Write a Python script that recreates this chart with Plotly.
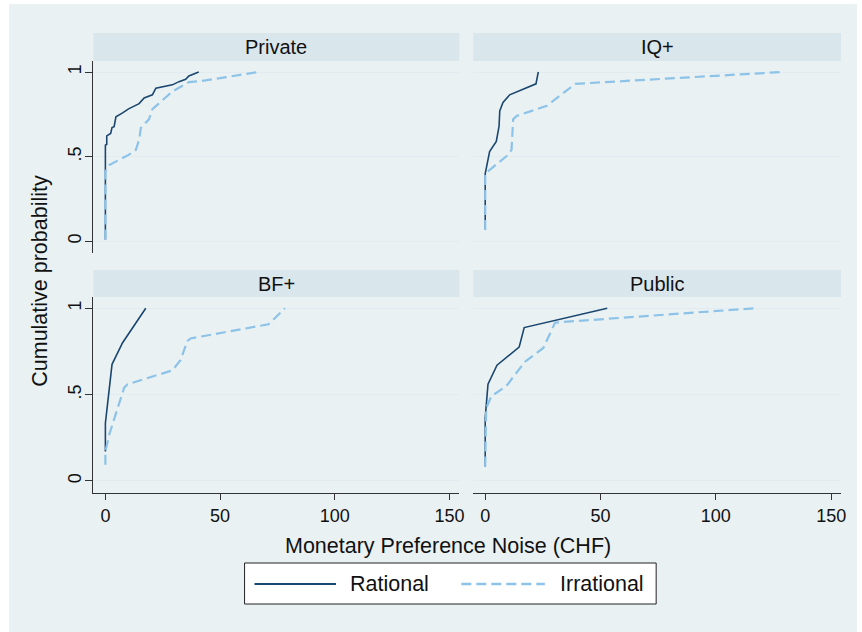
import plotly.graph_objects as go

W, H = 862, 632

panels = ["Private", "IQ+", "BF+", "Public"]

# Rational / Irrational series (x = noise CHF, y = cumulative probability)
private_rat_x = [0, 0, 0.6, 0.6, 2.3, 2.9, 3.8, 4.6, 7.5, 10.1, 14.7, 16.9, 20.5, 22.0, 29.2, 32.1, 35.0, 36.4, 40.7]
private_rat_y = [0.01, 0.567, 0.573, 0.622, 0.637, 0.671, 0.677, 0.735, 0.758, 0.782, 0.813, 0.846, 0.865, 0.904, 0.924, 0.943, 0.957, 0.977, 1.0]
private_irr_x = [0, 0, 1.7, 10.1, 13.3, 14.7, 15.5, 19.0, 20.5, 29.2, 36.4, 43.6, 66.7]
private_irr_y = [0.01, 0.41, 0.45, 0.51, 0.54, 0.60, 0.67, 0.72, 0.78, 0.885, 0.94, 0.95, 1.0]

iq_rat_x = [0, 0, 1.9, 4.8, 6.0, 6.3, 7.7, 10.6, 22.0, 23.0]
iq_rat_y = [0.066, 0.40, 0.53, 0.59, 0.68, 0.77, 0.82, 0.865, 0.93, 1.0]
iq_irr_x = [0, 0, 9.9, 11.4, 12.1, 13.6, 26.7, 39.0, 128.7]
iq_irr_y = [0.066, 0.40, 0.51, 0.54, 0.72, 0.74, 0.80, 0.93, 1.0]

bf_rat_x = [0, 0, 2.9, 7.5, 17.6]
bf_rat_y = [0.17, 0.335, 0.675, 0.80, 1.0]
bf_irr_x = [0, 0, 1.7, 8.2, 9.7, 29.2, 32.8, 35.7, 37.1, 71.1, 78.3]
bf_irr_y = [0.093, 0.17, 0.27, 0.54, 0.56, 0.64, 0.70, 0.81, 0.825, 0.907, 1.0]

pub_rat_x = [0, 0, 1.2, 5.1, 14.7, 16.9, 52.9]
pub_rat_y = [0.083, 0.365, 0.56, 0.67, 0.775, 0.888, 1.0]
pub_irr_x = [0, 0.4, 2.6, 9.2, 17.2, 25.2, 30.3, 117.0]
pub_irr_y = [0.083, 0.42, 0.49, 0.55, 0.69, 0.77, 0.917, 1.0]

rational = [(private_rat_x, private_rat_y), (iq_rat_x, iq_rat_y), (bf_rat_x, bf_rat_y), (pub_rat_x, pub_rat_y)]
irrational = [(private_irr_x, private_irr_y), (iq_irr_x, iq_irr_y), (bf_irr_x, bf_irr_y), (pub_irr_x, pub_irr_y)]

x_ticks = [0, 50, 100, 150]
x_ticklabels = ["0", "50", "100", "150"]
y_ticks = [0, 0.5, 1]
y_ticklabels = ["0", ".5", "1"]

RAT_COLOR = "#1a476f"
IRR_COLOR = "#8dc3e8"
OUTER_BG = "#eaf1f3"
STRIP_BG = "#d9e6ec"
GRID = "#e2ecf0"
AXIS = "#333333"
TEXT = "#111111"
FONT = "Liberation Sans, Arial, sans-serif"

cols = [(94, 462), (476, 846)]
rows = [(61, 253), (297, 493)]
strips = [(33, 61), (270, 297)]


def px_x(p):
    return p / W


def px_y(p):
    return 1 - p / H


fig = go.Figure()
layout = dict(
    width=W, height=H,
    margin=dict(l=0, r=0, t=0, b=0),
    paper_bgcolor="white",
    plot_bgcolor="white",
    showlegend=False,
    font=dict(family=FONT, color=TEXT),
)

shapes = []
annotations = []

shapes.append(dict(type="rect", xref="paper", yref="paper",
                   x0=px_x(9), x1=1, y0=0, y1=px_y(4),
                   fillcolor=OUTER_BG, line=dict(width=0), layer="below"))

for i, name in enumerate(panels):
    r, c = divmod(i, 2)
    idx = i + 1
    xa = "xaxis" if idx == 1 else f"xaxis{idx}"
    ya = "yaxis" if idx == 1 else f"yaxis{idx}"
    xref = "x" if idx == 1 else f"x{idx}"
    yref = "y" if idx == 1 else f"y{idx}"
    x0p, x1p = cols[c]
    y0p, y1p = rows[r]
    bottom = r == 1
    left = c == 0
    layout[xa] = dict(
        domain=[px_x(x0p), px_x(x1p)],
        range=[-5.2, 154.3],
        anchor=yref,
        tickmode="array", tickvals=x_ticks, ticktext=x_ticklabels,
        showticklabels=bottom,
        ticks="outside" if bottom else "",
        ticklen=6, tickwidth=1, tickcolor=AXIS,
        showline=bottom, linecolor=AXIS, linewidth=1,
        showgrid=False, zeroline=False,
        tickfont=dict(size=18, color=TEXT, family=FONT),
        fixedrange=True,
    )
    layout[ya] = dict(
        domain=[px_y(y1p), px_y(y0p)],
        range=[-0.07, 1.065],
        anchor=xref,
        tickmode="array", tickvals=y_ticks, ticktext=y_ticklabels,
        showticklabels=left,
        ticks="outside" if left else "",
        ticklen=7, tickwidth=1, tickcolor=AXIS,
        showline=left, linecolor=AXIS, linewidth=1,
        showgrid=True, gridcolor=GRID, gridwidth=1.2,
        zeroline=False,
        tickangle=-90,
        ticklabelstandoff=-3,
        tickfont=dict(size=18, color=TEXT, family=FONT),
        fixedrange=True,
    )
    s0, s1 = strips[r]
    shapes.append(dict(type="rect", xref="paper", yref="paper",
                       x0=px_x(x0p), x1=px_x(x1p), y0=px_y(s1), y1=px_y(s0),
                       fillcolor=STRIP_BG, line=dict(width=0), layer="below"))
    annotations.append(dict(xref="paper", yref="paper",
                            x=px_x((x0p + x1p) / 2), y=px_y((s0 + s1) / 2),
                            text=name, showarrow=False,
                            xanchor="center", yanchor="middle",
                            font=dict(size=20, color=TEXT, family=FONT)))

    rx, ry = rational[i]
    ix, iy = irrational[i]
    fig.add_trace(go.Scatter(x=rx, y=ry, mode="lines", name="Rational",
                             line=dict(color=RAT_COLOR, width=1.6),
                             xaxis=xref, yaxis=yref))
    fig.add_trace(go.Scatter(x=ix, y=iy, mode="lines", name="Irrational",
                             line=dict(color=IRR_COLOR, width=2.2, dash="10px,5px"),
                             xaxis=xref, yaxis=yref))

annotations.append(dict(xref="paper", yref="paper", x=px_x(451), y=px_y(546),
                        text="Monetary Preference Noise (CHF)", showarrow=False,
                        xanchor="center", yanchor="middle",
                        font=dict(size=21.5, color=TEXT, family=FONT)))
annotations.append(dict(xref="paper", yref="paper", x=px_x(40), y=px_y(281),
                        text="Cumulative probability", showarrow=False, textangle=-90,
                        xanchor="center", yanchor="middle",
                        font=dict(size=21.5, color=TEXT, family=FONT)))

shapes.append(dict(type="rect", xref="paper", yref="paper",
                   x0=px_x(246), x1=px_x(660), y0=px_y(604), y1=px_y(563),
                   fillcolor="white", line=dict(color="#222222", width=1)))
shapes.append(dict(type="line", xref="paper", yref="paper",
                   x0=px_x(256), x1=px_x(338), y0=px_y(584), y1=px_y(584),
                   line=dict(color=RAT_COLOR, width=1.8)))
shapes.append(dict(type="line", xref="paper", yref="paper",
                   x0=px_x(464), x1=px_x(548), y0=px_y(584), y1=px_y(584),
                   line=dict(color=IRR_COLOR, width=2.4, dash="10px,5px")))
annotations.append(dict(xref="paper", yref="paper", x=px_x(350), y=px_y(584),
                        text="Rational", showarrow=False, xanchor="left", yanchor="middle",
                        font=dict(size=21.5, color=TEXT, family=FONT)))
annotations.append(dict(xref="paper", yref="paper", x=px_x(561), y=px_y(584),
                        text="Irrational", showarrow=False, xanchor="left", yanchor="middle",
                        font=dict(size=21.5, color=TEXT, family=FONT)))

layout["shapes"] = shapes
layout["annotations"] = annotations
fig.update_layout(**layout)
fig.write_html("out.html")
